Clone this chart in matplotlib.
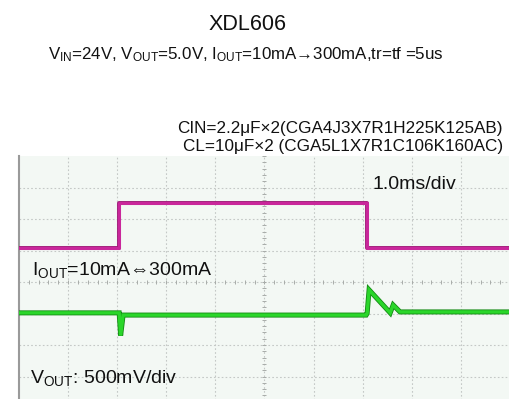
import matplotlib
matplotlib.use("Agg")
import matplotlib.pyplot as plt
import matplotlib.patheffects as pe
import numpy as np

plt.rcParams["font.family"] = ["Liberation Sans", "DejaVu Sans"]
plt.rcParams["mathtext.fontset"] = "custom"
plt.rcParams["mathtext.rm"] = "Liberation Sans"
plt.rcParams["mathtext.it"] = "Liberation Sans"
plt.rcParams["mathtext.fallback"] = "stixsans"

# scope traces, in divisions (x: 1.0 ms/div, y: screen divisions from bottom)
iout_t = [0.0, 2.04, 2.04, 7.09, 7.09, 10.0]
iout_v = [5.08, 5.08, 6.50, 6.50, 5.08, 5.08]

vout_t = [0.0, 2.04, 2.07, 2.12, 7.07, 7.09, 7.13, 7.56, 7.62, 7.76, 10.0]
vout_v = [3.02, 3.02, 2.30, 2.95, 2.95, 3.00, 3.75, 3.02, 3.27, 3.05, 3.05]

title = "XDL606"
subtitle = r"V$_{\rm IN}$=24V, V$_{\rm OUT}$=5.0V, I$_{\rm OUT}$=10mA→300mA,tr=tf =5us"
cap_lines = ["CIN=2.2μF×2(CGA4J3X7R1H225K125AB)",
             "CL=10μF×2 (CGA5L1X7R1C106K160AC)"]

W, H = 510, 399
fig = plt.figure(figsize=(W / 100, H / 100), dpi=100)
fig.patch.set_facecolor("white")

# scope screen: left 19px, top 156px, 10 x 8 divisions (bottom cut off)
div_x, div_y = 49.1, 31.5
ax = fig.add_axes([19 / W, 1 - (156 + 8 * div_y) / H, 10 * div_x / W, 8 * div_y / H])
ax.set_xlim(0, 10)
ax.set_ylim(0, 8)
ax.set_facecolor("#f3f8f4")
for side in ["top", "right", "bottom"]:
    ax.spines[side].set_visible(False)
ax.spines["left"].set_color("#9a9a9a")
ax.spines["left"].set_linewidth(1.5)
ax.set_xticks([])
ax.set_yticks([])

grid_kw = dict(color="#c4c8c6", lw=0.8, ls=(0, (1.5, 2)), zorder=1)
for gx in range(1, 10):
    ax.axvline(gx, **grid_kw)
for gy in range(1, 8):
    ax.axhline(gy, **grid_kw)

# minor ticks on centre axes
minor_x = np.arange(0, 10.01, 0.2)
minor_y = np.arange(0, 8.01, 0.2)
ax.plot(minor_x, np.full_like(minor_x, 4), ls="none", marker="|", ms=3,
        mew=0.7, color="#a8aca9", zorder=1)
ax.plot(np.full_like(minor_y, 5), minor_y, ls="none", marker="_", ms=3,
        mew=0.7, color="#a8aca9", zorder=1)

ax.plot(iout_t, iout_v, color="#c9279b", lw=2.2, zorder=3,
        path_effects=[pe.Stroke(linewidth=2.8, foreground="#a01c7a"), pe.Normal()])
ax.plot(vout_t, vout_v, color="#2ad62a", lw=2.4, zorder=3, solid_joinstyle="miter",
        path_effects=[pe.Stroke(linewidth=3.6, foreground="#138a13"), pe.Normal()])

ax.text(7.19, 7.08, "1.0ms/div", fontsize=14, va="center", ha="left", color="#111111")
ax.text(0.26, 4.38, r"I$_{\rm OUT}$=10mA⇔300mA", fontsize=14,
        va="center", ha="left", color="#111111")
ax.text(0.22, 0.95, r"V$_{\rm OUT}$: 500mV/div", fontsize=14,
        va="center", ha="left", color="#111111")

fig.text(248 / W, 1 - 25 / H, title, fontsize=15.5, ha="center", va="center",
         color="#111111")
fig.text(246 / W, 1 - 55 / H, subtitle, fontsize=12.2, ha="center", va="center",
         color="#111111")
fig.text(503 / W, 1 - 128 / H, cap_lines[0], fontsize=12.3, ha="right", va="center",
         color="#111111")
fig.text(503 / W, 1 - 146 / H, cap_lines[1], fontsize=12.3, ha="right", va="center",
         color="#111111")

fig.savefig("out.png", dpi=100)
